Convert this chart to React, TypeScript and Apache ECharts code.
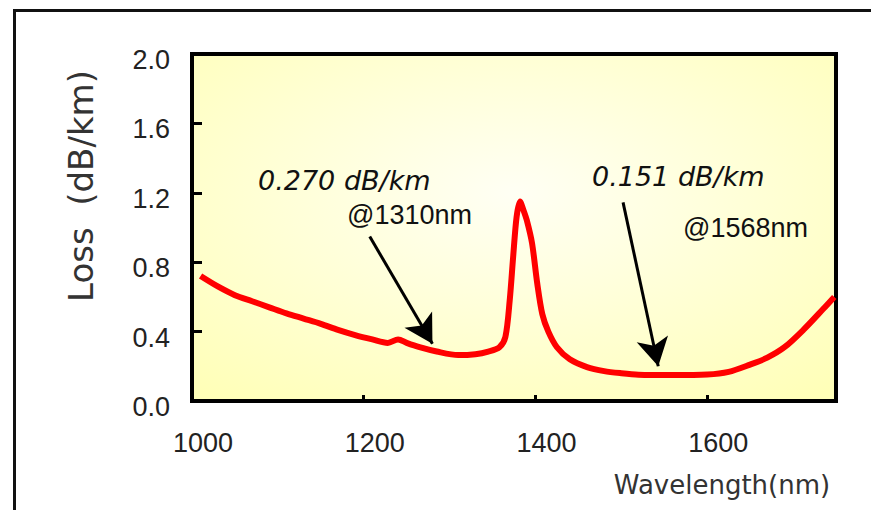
import React, { useEffect, useRef } from "react";
import * as echarts from "echarts";

// Wavelength (nm) and loss (dB/km)
const wavelengths = [
  1010, 1030, 1050, 1070, 1090, 1110, 1130, 1150, 1170, 1190, 1210, 1228, 1240, 1250,
  1265, 1285, 1310, 1330, 1345, 1358, 1365, 1370, 1374, 1378, 1382, 1386, 1390, 1396,
  1402, 1408, 1415, 1425, 1440, 1460, 1480, 1500, 1520, 1560, 1600, 1625, 1650, 1670,
  1690, 1712, 1735, 1748,
];
const losses = [
  0.72, 0.66, 0.61, 0.575, 0.54, 0.505, 0.475, 0.445, 0.41, 0.38, 0.355, 0.335, 0.355, 0.335,
  0.31, 0.285, 0.265, 0.27, 0.285, 0.31, 0.37, 0.58, 0.83, 1.06, 1.15, 1.1, 1.04, 0.91,
  0.68, 0.5, 0.4, 0.31, 0.24, 0.195, 0.172, 0.16, 0.152, 0.15, 0.153, 0.168, 0.21, 0.25,
  0.31, 0.41, 0.53, 0.6,
];

// Annotation arrows: [start wavelength, start loss, end wavelength, end loss]
const arrow1310 = [1207, 0.948, 1280, 0.33];
const arrow1568 = [1502, 1.145, 1543, 0.2];

const yAxisTitle = "Loss  (dB/km)";
const xAxisTitle = "Wavelength(nm)";
const note1310Value = "0.270 dB/km";
const note1310At = "@1310nm";
const note1568Value = "0.151 dB/km";
const note1568At = "@1568nm";

export default function App() {
  const ref = useRef<HTMLDivElement>(null);
  useEffect(() => {
    document.body.style.margin = "0";
    const chart = echarts.init(ref.current!, null, { renderer: "svg" });
    const data = wavelengths.map((w, i) => [w, losses[i]]);
    const arrowLine = (a: number[]) => [
      { coord: [a[0], a[1]] },
      { coord: [a[2], a[3]] },
    ];
    chart.setOption({
      animation: false,
      backgroundColor: "#ffffff",
      grid: {
        left: 192,
        top: 54,
        right: 35,
        bottom: 109,
        show: true,
        borderColor: "#000000",
        borderWidth: 4,
        backgroundColor: new echarts.graphic.RadialGradient(0.5, 0.4, 0.75, [
          { offset: 0, color: "#fffff4" },
          { offset: 1, color: "#ffffb8" },
        ]),
      },
      xAxis: {
        type: "value",
        min: 1000,
        max: 1750,
        interval: 200,
        axisLine: { show: false },
        splitLine: { show: false },
        axisTick: { show: true, inside: true, length: 6, lineStyle: { color: "#000", width: 3 } },
        axisLabel: {
          fontSize: 27,
          fontFamily: "Liberation Sans",
          color: "#222",
          margin: 28,
          padding: [0, 0, 0, 22],
          showMaxLabel: false,
          formatter: (v: number) => String(v),
        },
      },
      yAxis: {
        type: "value",
        min: 0,
        max: 2,
        interval: 0.4,
        axisLine: { show: false },
        splitLine: { show: false },
        axisTick: { show: true, inside: true, length: 10, lineStyle: { color: "#000", width: 3 } },
        axisLabel: {
          color: "#222",
          margin: 22,
          formatter: (v: number) => "{t|" + v.toFixed(1) + "}",
          rich: {
            t: {
              fontSize: 27,
              fontFamily: "Liberation Sans",
              color: "#222",
              padding: [12, 0, 0, 0],
            },
          },
        },
      },
      series: [
        {
          type: "line",
          data,
          smooth: 0.3,
          showSymbol: false,
          lineStyle: { color: "#ff0000", width: 6 },
          markLine: {
            silent: true,
            symbol: ["none", "arrow"],
            symbolSize: [24, 28],
            label: { show: false },
            lineStyle: { color: "#000", width: 3, type: "solid" },
            data: [arrowLine(arrow1310), arrowLine(arrow1568)],
          },
        },
      ],
      graphic: [
        { type: "line", shape: { x1: 13, y1: 10.5, x2: 871, y2: 10.5 }, style: { stroke: "#111", lineWidth: 3 } },
        { type: "line", shape: { x1: 14.5, y1: 10, x2: 14.5, y2: 510 }, style: { stroke: "#111", lineWidth: 3 } },
        {
          type: "text",
          x: 81,
          y: 186,
          rotation: Math.PI / 2,
          style: {
            text: yAxisTitle,
            fontSize: 34,
            fontFamily: "DejaVu Sans",
            fill: "#333",
            align: "center",
            verticalAlign: "middle",
          },
        },
        {
          type: "text",
          x: 722,
          y: 485,
          style: {
            text: xAxisTitle,
            fontSize: 26,
            fontFamily: "DejaVu Sans",
            fill: "#333",
            align: "center",
            verticalAlign: "middle",
          },
        },
        {
          type: "text",
          x: 258,
          y: 180,
          style: {
            text: note1310Value,
            fontSize: 27,
            fontStyle: "italic",
            fontFamily: "DejaVu Sans",
            fill: "#111",
            align: "left",
            verticalAlign: "middle",
          },
        },
        {
          type: "text",
          x: 347,
          y: 215,
          style: {
            text: note1310At,
            fontSize: 27,
            fontFamily: "Liberation Sans",
            fill: "#111",
            align: "left",
            verticalAlign: "middle",
          },
        },
        {
          type: "text",
          x: 592,
          y: 176,
          style: {
            text: note1568Value,
            fontSize: 27,
            fontStyle: "italic",
            fontFamily: "DejaVu Sans",
            fill: "#111",
            align: "left",
            verticalAlign: "middle",
          },
        },
        {
          type: "text",
          x: 683,
          y: 228,
          style: {
            text: note1568At,
            fontSize: 27,
            fontFamily: "Liberation Sans",
            fill: "#111",
            align: "left",
            verticalAlign: "middle",
          },
        },
      ],
    });
    return () => chart.dispose();
  }, []);
  return <div ref={ref} style={{ width: 871, height: 510 }} />;
}
